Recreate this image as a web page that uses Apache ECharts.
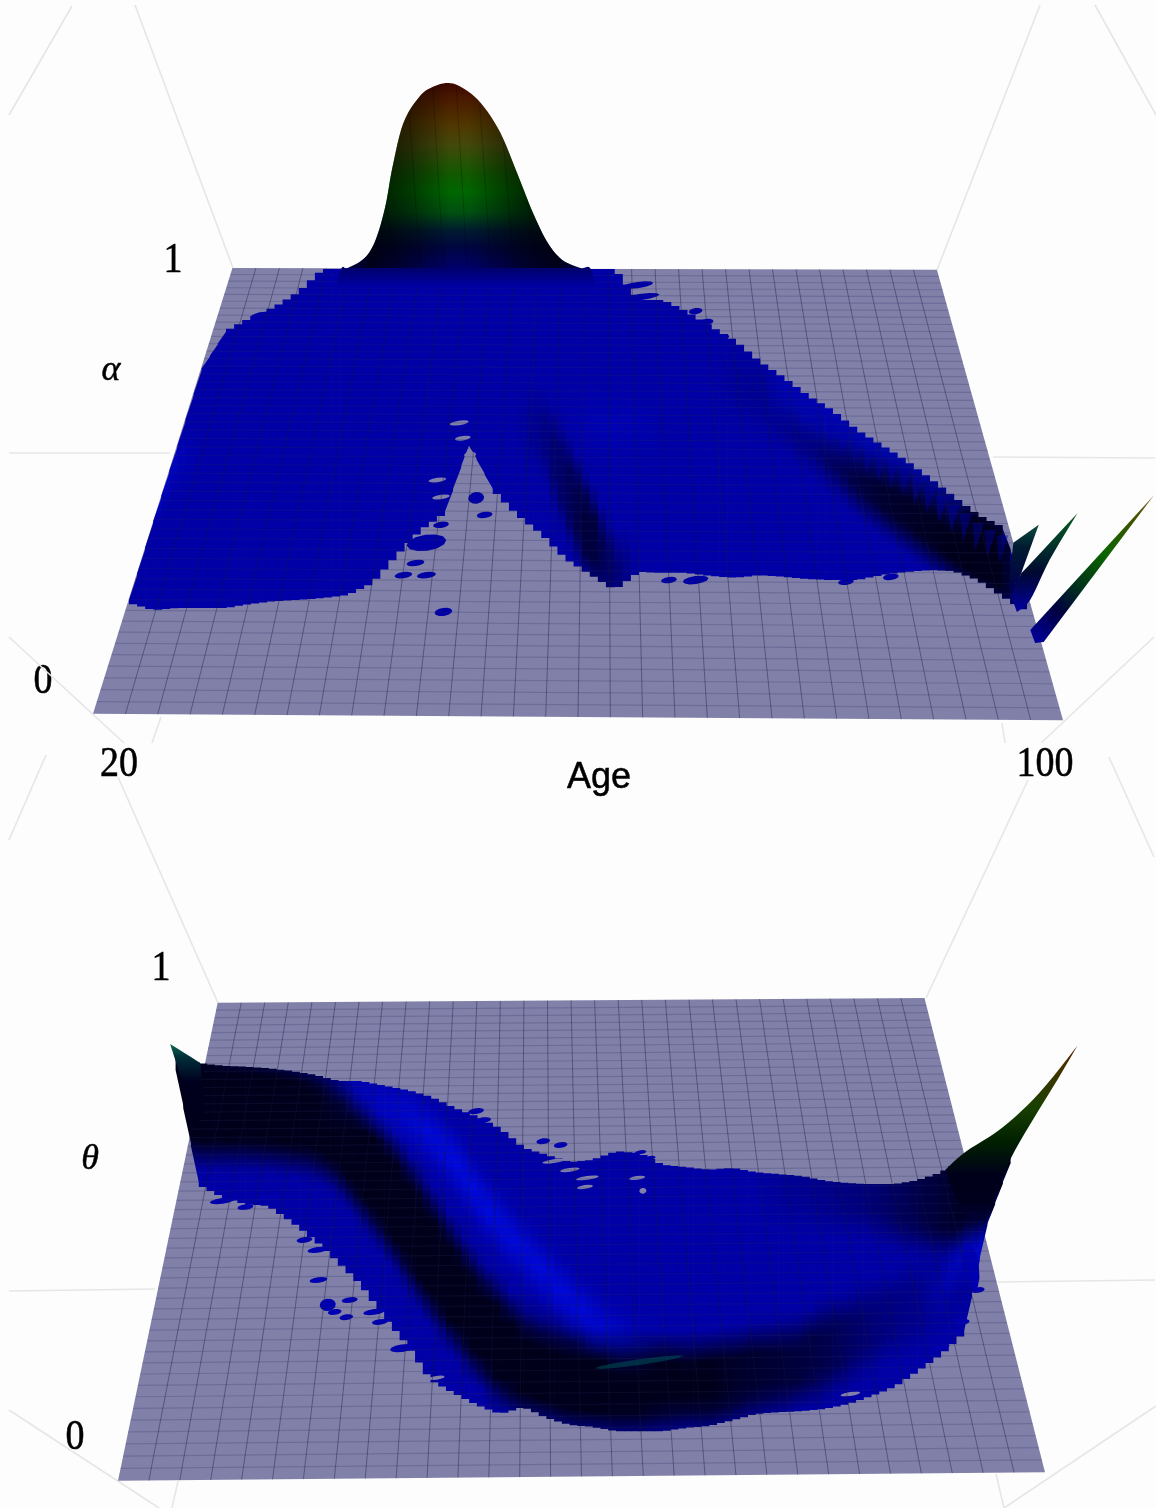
<!DOCTYPE html>
<html><head><meta charset="utf-8">
<style>html,body{margin:0;padding:0;background:#fdfdfd}#c{width:1156px;height:1508px}#c canvas{filter:blur(.6px)}</style>
<script src="https://cdn.jsdelivr.net/npm/echarts@6/dist/echarts.min.js"></script>
</head><body><div id="c"></div>
<script>
// ---------- axis labels ----------
const ageTicks = ['20', '100'];
const ageName = 'Age';
const paramTicks = ['0', '1'];
const paramNames = ['\u03b1', '\u03b8'];

// ---------- floor corners [age, parameter] : front-left, front-right, back-right, back-left ----------
const alphaFloor = [[20, .007], [100, -.007], [89.6, .996], [31.5, 1.0]];
const thetaFloor = [[20, -.008], [100, .010], [89.6, 1.004], [28.6, .994]];

// ---------- alpha panel, surface band ----------
const alphaAges = [23,25,27,29,31,33,35,37,39,41,43,45,47,49,51,53,55,57,59,61,63,65,67,69,71,73,75,77,79,81,83,85,87,89,91,93,95,97];
const alphaHi = [.261,.437,.606,.777,.860,.889,.913,.947,.998,.998,.998,.998,.998,.998,.998,.998,.998,.998,.998,.998,.998,.929,.929,.902,.869,.837,.791,.755,.715,.682,.639,.606,.572,.532,.490,.450,.423,.272];
const alphaLo = [.254,.238,.243,.243,.243,.252,.258,.261,.265,.272,.298,.359,.416,.454,.606,.506,.450,.408,.352,.318,.283,.323,.321,.321,.314,.310,.316,.312,.307,.305,.305,.316,.323,.327,.325,.305,.269,.234];
const alphaDarkHi = [0,0,0,0,0,0,0,0,0,0,0,0,0,0,0,0,0,.673,.572,.461,.350,0,0,0,0,.773,.739,.695,.650,.617,.595,.568,.546,.510,.472,.439,.405,.261];
const alphaDarkLo = [0,0,0,0,0,0,0,0,0,0,0,0,0,0,0,0,0,.606,.461,.350,.294,0,0,0,0,.717,.695,.650,.606,.561,.510,.470,.430,.390,.350,.315,.290,.243];
const alphaDarkS  = [0,0,0,0,0,0,0,0,0,0,0,0,0,0,0,0,0,.2,.5,.8,.4,0,0,0,0,.1,.15,.2,.3,.5,.7,.85,.9,.95,1,1,1,.2];
const alphaBrightC = [0,.499,.584,0,0,0,0,0,0,0,0,0,0,0,0,0,0,0,0,.661,.650,.650,0,0,0,0,0,.715,.670,.640,.615,.590,.565,.530,.480,0,0,0];
const alphaBrightS = [0,.9,.25,0,0,0,0,0,0,0,0,0,0,0,0,0,0,0,0,.15,.2,.15,0,0,0,0,0,.3,.35,.45,.5,.55,.55,.5,.4,0,0,0];
const alphaToothAge = [80,81,82,83,84,85,86,87,88,89,90,91,92,93,94,95];
const alphaToothTop = [.668,.652,.630,.609,.592,.576,.559,.542,.522,.502,.481,.460,.440,.420,.405,.393];

// ---------- alpha panel, peak and spikes ----------
const peakAge = [41.0,42.4,43.3,44.1,44.7,45.6,46.9,48.0,49.3,50.5,52.0,53.6,55.1,56.3,57.5,58.7,60.2];
const peakTop = [1.0,1.022,1.062,1.136,1.225,1.323,1.381,1.403,1.412,1.401,1.367,1.301,1.203,1.122,1.056,1.018,1.0];
const spike1 = [[95.9,.388],[98.0,.428],[96.5,.316],[95.5,.283]];
const spike2 = [[95.7,.272],[96.6,.321],[101.2,.454],[98.9,.350],[97.3,.261],[96.2,.234]];
const spike3 = [[97.3,.194],[107.5,.494],[98.4,.167],[97.7,.165]];

// ---------- alpha panel, islands: [age, value, halfAge, halfValue] ----------
const alphaBlobs = [[48.9,.234,.74,.009],[46.6,.343,.74,.007],[45.6,.316,.74,.007],[47.5,.316,.8,.007],[47.5,.388,1.65,.018],[48.7,.428,.66,.007],[51.6,.488,.66,.013],[52.3,.450,.66,.007],[67.5,.305,.66,.007],[69.7,.305,1.07,.009],[82.1,.301,.66,.007],[85.8,.312,.66,.007],[64.9,.962,1.32,.007],[65.1,.935,1.65,.007],[69.7,.904,.58,.007],[70.6,.880,.58,.007],[71.9,.846,.58,.007],[34.0,.895,1,.007]];
const alphaHoles = [[50.2,.655,.8,.005],[50.5,.621,.66,.005],[48.4,.528,.74,.005],[48.7,.490,.74,.005],[51.1,.584,.5,.007]];

// ---------- theta panel, surface band ----------
const thetaAges = [25,27,29,31,33,35,37,39,41,43,45,47,49,51,53,55,57,59,61,63,65,67,69,71,73,75,77,79,81,83,85,87,89,91,93,95,97];
const thetaHi = [.878,.868,.862,.860,.857,.851,.843,.830,.830,.820,.811,.797,.774,.755,.730,.690,.675,.660,.665,.683,.679,.654,.650,.644,.648,.639,.635,.631,.621,.616,.614,.614,.622,.638,.665,.700,.730];
const thetaLo = [.853,.612,.587,.572,.568,.535,.497,.451,.403,.335,.277,.203,.176,.151,.132,.147,.124,.109,.105,.096,.096,.096,.103,.107,.119,.132,.136,.138,.143,.153,.170,.189,.222,.256,.302,.528,.658];
const thetaDarkHi = [.874,.864,.853,.849,.843,.832,.815,.790,.738,.686,.623,.549,.476,.403,.350,.298,.277,.262,.249,.249,.245,.241,.235,.241,.249,.262,.266,.277,.308,.325,.350,.371,.403,.434,.465,0,0];
const thetaDarkLo = [.727,.706,.706,.706,.702,.696,.686,.654,.591,.528,.455,.382,.319,.256,.203,.172,.161,.145,.140,.136,.136,.145,.151,.151,.161,.178,.187,.203,.220,.249,.277,.308,.329,.361,.392,0,0];
const thetaDarkS  = [1,1,1,1,1,1,1,1,1,1,1,1,1,1,1,1,1,1,1,1,1,1,1,1,.9,.85,.8,.75,.65,.5,.35,.25,.2,.15,.1,0,0];
const thetaShadeHi = [0,0,0,0,0,0,0,0,0,0,0,0,0,0,0,0,0,0,0,0,0,0,0,0,0,0,.635,.631,.621,.616,.614,.614,.627,.648,.681,.721,.748];
const thetaShadeLo = [0,0,0,0,0,0,0,0,0,0,0,0,0,0,0,0,0,0,0,0,0,0,0,0,0,0,.581,.580,.570,.565,.560,.540,.530,.520,.520,.550,.658];
const thetaShadeS  = [0,0,0,0,0,0,0,0,0,0,0,0,0,0,0,0,0,0,0,0,0,0,0,0,0,0,.1,.15,.2,.27,.35,.5,.65,.8,.95,1,1];
const thetaBrightC = [0,0,0,0,0,0,0,.801,.797,.780,.759,.717,.665,.591,.528,.476,.423,.371,.329,.298,.277,0,0,0,0,0,0,0,0,0,0,0,0,.392,.476,.476,0];
const thetaBrightS = [0,0,0,0,0,0,0,.15,.25,.4,.55,.7,.8,.8,.75,.7,.7,.7,.6,.45,.2,0,0,0,0,0,0,0,0,0,0,0,0,.25,.45,.6,0];

// ---------- theta panel, horns and islands ----------
const hornRight = [[91.4,.644],[93.1,.681],[96.3,.732],[99.5,.805],[102.8,.904],[101.1,.834],[97.8,.702],[96.3,.629],[94.6,.541],[92.7,.560]];
const hornLeft = [[24.5,.908],[27.1,.868],[27.5,.769],[26.3,.732],[25.8,.805]];
const thetaBlobs = [[29.0,.579,1.1,.006],[31.0,.566,.7,.006],[32.9,.585,1.2,.004],[36.1,.497,.7,.006],[37.2,.476,.86,.006],[37.3,.413,.78,.006],[38.1,.361,.7,.013],[40.0,.371,.7,.006],[38.7,.346,.6,.006],[39.7,.335,.6,.006],[42.1,.346,.95,.006],[42.6,.325,.7,.006],[44.5,.270,1.04,.008],[50.9,.767,.7,.006],[51.5,.748,.7,.006],[56.7,.704,.6,.006],[58.2,.696,.6,.006],[65.1,.681,.5,.004],[65.9,.669,.5,.004],[94.2,.392,.6,.006],[92.9,.325,.6,.006],[92.1,.302,.6,.006],[91.0,.273,.78,.006],[93.6,.440,.7,.05]];
const thetaHoles = [[57.6,.662,1.0,.004],[59.0,.644,.86,.004],[60.5,.627,1.0,.004],[64.8,.627,.7,.004],[60.3,.608,.7,.004],[65.3,.600,.3,.006],[83.2,.174,.86,.004],[47.5,.208,.7,.004]];
const thetaGlow = [[65.0,.241,3.9,.006]];

// ---------- faint box edges behind the floors, in frame units ----------
const frameEdges = [[135,5,233,268],[72,6,9,115],[1040,5,937,270],[1095,5,1156,115],[9,453,170,453],[993,457,1155,458],[9,637,124,743],[152,743,161,717],[46,755,9,840],[118,777,218,1003],[1154,637,1041,743],[1002,723,1005,743],[1028,780,926,998],[1109,757,1154,857],[9,1291,155,1289],[998,1282,1155,1280],[9,1410,159,1508],[178,1481,172,1508],[1156,1406,1004,1508],[996,1474,1004,1508]];

// ---------- colours ----------
const FLOOR = '#8080a9', BASE = [0,0,166], DARK = [0,0,26], BRIGHT = [0,12,240];
const rows = 50, cols = 30, FADE = .065, GLOW = .075;

function mix(a,b,m){return [a[0]+(b[0]-a[0])*m,a[1]+(b[1]-a[1])*m,a[2]+(b[2]-a[2])*m];}
function lerp(a,b,t){return a+(b-a)*t;}
function css(c){return 'rgb('+c.map(Math.round).join(',')+')';}
function band(H,L,S,i,f){
  const s=lerp(S[i],S[i+1],f);
  if(S[i]>0&&S[i+1]>0) return [lerp(H[i],H[i+1],f),lerp(L[i],L[i+1],f),s];
  if(S[i]>0) return [H[i],L[i],s];
  return [H[i+1],L[i+1],s];
}
function weight(d,b){
  if(b[2]<=0) return 0;
  const o=d>b[0]?d-b[0]:d<b[1]?b[1]-d:0;
  return b[2]*Math.max(0,1-o/FADE);
}
function surface(g,ages,hi,lo,d1,d2,bc,bs){
  return {type:'custom',coordinateSystem:'cartesian2d',xAxisIndex:g,yAxisIndex:g,clip:false,silent:true,
    data:ages.slice(0,-1).map((a,i)=>[a,hi[i]]),
    renderItem:function(params,api){
      const i=params.dataIndex,kids=[],n=3,step=ages[i+1]-ages[i];
      const steepH=Math.abs(hi[i+1]-hi[i])/step>.04,steepL=Math.abs(lo[i+1]-lo[i])/step>.04;
      for(let s=0;s<n;s++){
        const f0=s/n,f1=(s+1)/n,fm=(s+.5)/n;
        const a0=lerp(ages[i],ages[i+1],f0)-.03,a1=lerp(ages[i],ages[i+1],f1)+.03;
        const H=lerp(hi[i],hi[i+1],fm),L=lerp(lo[i],lo[i+1],fm);
        const h0=steepH?lerp(hi[i],hi[i+1],f0):H,h1=steepH?lerp(hi[i],hi[i+1],f1):H;
        const l0=steepL?lerp(lo[i],lo[i+1],f0):L,l1=steepL?lerp(lo[i],lo[i+1],f1):L;
        const top=Math.max(h0,h1),bot=Math.min(l0,l1);
        const b1=band(d1[0],d1[1],d1[2],i,fm),b2=d2?band(d2[0],d2[1],d2[2],i,fm):[0,0,0];
        const bS=lerp(bs[i],bs[i+1],fm),bC=(bs[i]>0&&bs[i+1]>0)?lerp(bc[i],bc[i+1],fm):(bs[i]>0?bc[i]:bc[i+1]);
        const stops=[];
        for(let k=0;k<=16;k++){
          const p=k/16,d=lerp(top,bot,p);
          let c=mix(BASE,DARK,Math.max(weight(d,b1),weight(d,b2)));
          if(bS>0) c=mix(c,BRIGHT,bS*Math.max(0,1-Math.abs(d-bC)/GLOW));
          stops.push({offset:p,color:css(c)});
        }
        kids.push({type:'polygon',shape:{points:[api.coord([a0,h0]),api.coord([a1,h1]),api.coord([a1,l1]),api.coord([a0,l0])]},
          style:{fill:new echarts.graphic.LinearGradient(0,0,0,1,stops)}});
      }
      return {type:'group',children:kids};
    }};
}
function flat(g,list,fill){
  return {type:'custom',coordinateSystem:'cartesian2d',xAxisIndex:g,yAxisIndex:g,clip:false,silent:true,
    data:list,
    renderItem:function(params,api){
      const c=api.coord([api.value(0),api.value(1)]);
      const e=api.coord([api.value(0)+api.value(2),api.value(1)]),t=api.coord([api.value(0),api.value(1)+api.value(3)]);
      const rx=Math.abs(e[0]-c[0]),ry=Math.abs(t[1]-c[1]),pts=[],rot=-.14;
      for(let k=0;k<12;k++){
        const q=k/12*Math.PI*2,x=rx*Math.cos(q),y=ry*Math.sin(q);
        pts.push([c[0]+x*Math.cos(rot)-y*Math.sin(rot),c[1]+x*Math.sin(rot)+y*Math.cos(rot)]);
      }
      return {type:'polygon',shape:{points:pts},style:{fill:fill}};
    }};
}
function teeth(g,ages,tops){
  return {type:'custom',coordinateSystem:'cartesian2d',xAxisIndex:g,yAxisIndex:g,clip:false,silent:true,
    data:ages.map((a,i)=>[a,tops[i]]),
    renderItem:function(p,api){
      const a=api.value(0),d=api.value(1);
      return {type:'polygon',shape:{points:[api.coord([a-.5,d+.012]),api.coord([a+.5,d+.012]),api.coord([a-.25,d-.05])]},style:{fill:'rgba(0,0,170,.42)'}};
    }};
}
function floorPoint(f,k,u,v,api){
  const t=v*(1+k)/(1+k*v);
  const fx=lerp(f[0][0],f[1][0],u),fy=lerp(f[0][1],f[1][1],u);
  const bx=lerp(f[3][0],f[2][0],u),by=lerp(f[3][1],f[2][1],u);
  return api.coord([lerp(fx,bx,t),lerp(fy,by,t)]);
}
function floorFill(g,f){
  return {type:'custom',coordinateSystem:'cartesian2d',xAxisIndex:g,yAxisIndex:g,clip:false,silent:true,data:f,
    renderItem:function(p,api){
      if(p.dataIndex) return null;
      return {type:'polygon',shape:{points:f.map(q=>api.coord(q))},style:{fill:FLOOR}};
    }};
}
function floorGrid(g,f,k){
  return {type:'custom',coordinateSystem:'cartesian2d',xAxisIndex:g,yAxisIndex:g,clip:false,silent:true,data:[[f[0][0],f[0][1]]],
    renderItem:function(p,api){
      const kids=[];
      for(let j=1;j<rows;j++){
        const a=floorPoint(f,k,0,j/rows,api),b=floorPoint(f,k,1,j/rows,api);
        kids.push({type:'line',shape:{x1:a[0],y1:a[1],x2:b[0],y2:b[1]},style:{stroke:'rgba(40,40,100,.22)',lineWidth:1.2}});
      }
      for(let i=1;i<cols;i++){
        const a=floorPoint(f,k,i/cols,0,api),b=floorPoint(f,k,i/cols,1,api);
        kids.push({type:'line',shape:{x1:a[0],y1:a[1],x2:b[0],y2:b[1]},style:{stroke:'rgba(20,20,60,.4)',lineWidth:1}});
      }
      return {type:'group',children:kids};
    }};
}
function spline(P,corners){
  const n=P.length,out=[];
  for(let i=0;i<n;i++){
    const j=(i+1)%n,p1=P[i],p2=P[j];
    const p0=corners.indexOf(i)>=0?p1:P[(i-1+n)%n],p3=corners.indexOf(j)>=0?p2:P[(j+1)%n];
    for(let s=0;s<6;s++){
      const t=s/6,t2=t*t,t3=t2*t;
      out.push([0,1].map(c=>.5*(2*p1[c]+(p2[c]-p0[c])*t+(2*p0[c]-5*p1[c]+4*p2[c]-p3[c])*t2+(3*p1[c]-p0[c]-3*p2[c]+p3[c])*t3)));
    }
  }
  return out;
}
function shape(g,pts,stops,axis,corners){
  return {type:'custom',coordinateSystem:'cartesian2d',xAxisIndex:g,yAxisIndex:g,clip:false,silent:true,data:[pts[0]],
    renderItem:function(p,api){
      let P=pts.map(q=>api.coord(q));
      const ys=P.map(q=>q[1]),xs=P.map(q=>q[0]);
      const yMin=Math.min.apply(0,ys),yMax=Math.max.apply(0,ys);
      const xMin=Math.min.apply(0,xs),xMax=Math.max.apply(0,xs);
      const grad= axis==='diag'
        ? new echarts.graphic.LinearGradient(xMax,yMin,xMin,yMax,stops,true)
        : axis==='x' ? new echarts.graphic.LinearGradient(xMin,0,xMax,0,stops,true)
        : new echarts.graphic.LinearGradient(0,yMin,0,yMax,stops,true);
      if(corners) P=spline(P,corners);
      return {type:'polygon',shape:{points:P},style:{fill:grad}};
    }};
}
function peakLines(g,f,ages,tops){
  return {type:'custom',coordinateSystem:'cartesian2d',xAxisIndex:g,yAxisIndex:g,clip:false,silent:true,data:[[ages[0],tops[0]]],
    renderItem:function(p,api){
      const kids=[];
      for(let i=1;i<cols;i++){
        const base=lerp(f[3][0],f[2][0],i/cols),lean=base-.9;
        let j=-1; for(let q=0;q<ages.length-1;q++){ if(lean>=ages[q]&&lean<=ages[q+1]) j=q; }
        if(j<0) continue;
        const top=lerp(tops[j],tops[j+1],(lean-ages[j])/(ages[j+1]-ages[j]));
        if(top<1.02) continue;
        const A=api.coord([base,1.0]),B=api.coord([lean,top-.004]);
        kids.push({type:'line',shape:{x1:A[0],y1:A[1],x2:B[0],y2:B[1]},style:{stroke:'rgba(0,0,0,.22)',lineWidth:1}});
      }
      return {type:'group',children:kids};
    }};
}

const peakOutline = peakAge.map((a,i)=>[a,peakTop[i]]);
const peakBody = [[40,.955],[40.5,1.0]].concat(peakOutline,[[61,1.0],[61.5,.955]]);

const series = [
  {type:'custom',coordinateSystem:'cartesian2d',xAxisIndex:2,yAxisIndex:2,clip:false,silent:true,data:frameEdges,
    renderItem:function(p,api){
      const a=api.coord([api.value(0),api.value(1)]),b=api.coord([api.value(2),api.value(3)]);
      return {type:'line',shape:{x1:a[0],y1:a[1],x2:b[0],y2:b[1]},style:{stroke:'#e6e6e6',lineWidth:1.6}};
    }},
  floorFill(0,alphaFloor),
  floorFill(1,thetaFloor),
  surface(0,alphaAges,alphaHi,alphaLo,[alphaDarkHi,alphaDarkLo,alphaDarkS],null,alphaBrightC,alphaBrightS),
  surface(1,thetaAges,thetaHi,thetaLo,[thetaDarkHi,thetaDarkLo,thetaDarkS],[thetaShadeHi,thetaShadeLo,thetaShadeS],thetaBrightC,thetaBrightS),
  teeth(0,alphaToothAge,alphaToothTop),
  flat(0,alphaHoles,FLOOR),flat(1,thetaHoles,FLOOR),
  flat(0,alphaBlobs,'rgb(0,0,166)'),flat(1,thetaBlobs,'rgb(0,0,176)'),
  floorGrid(0,alphaFloor,.378),
  floorGrid(1,thetaFloor,.311),
  flat(1,thetaGlow,'rgba(0,110,100,.4)'),
  shape(0,peakBody,[{offset:0,color:'#3c0800'},{offset:.08,color:'#4a1a00'},{offset:.2,color:'#503600'},{offset:.3,color:'#44480a'},{offset:.45,color:'#0f5a00'},{offset:.53,color:'#006600'},{offset:.63,color:'#005010'},{offset:.72,color:'#001a30'},{offset:.8,color:'#000540'},{offset:.9,color:'#00006a'},{offset:1,color:'#0000a6'}],'y',[0,peakBody.length-1]),
  shape(0,peakOutline,[{offset:0,color:'rgba(0,0,0,.35)'},{offset:.1,color:'rgba(0,0,0,.75)'},{offset:.26,color:'rgba(0,0,0,.45)'},{offset:.44,color:'rgba(0,0,0,0)'},{offset:.52,color:'rgba(0,0,0,0)'},{offset:.75,color:'rgba(0,0,0,.55)'},{offset:.9,color:'rgba(0,0,0,.75)'},{offset:1,color:'rgba(0,0,0,.35)'}],'x',[0,peakOutline.length-1]),
  peakLines(0,alphaFloor,peakAge,peakTop),
  shape(0,spike1,[{offset:0,color:'#0a4a40'},{offset:.35,color:'#001a30'},{offset:1,color:'#00004a'}],'y'),
  shape(0,spike2,[{offset:0,color:'#0a5a20'},{offset:.3,color:'#00382a'},{offset:.6,color:'#000830'},{offset:1,color:'#0000a0'}],'y',[0,1,2,5]),
  shape(0,spike3,[{offset:0,color:'#8a6a30'},{offset:.12,color:'#4a5000'},{offset:.4,color:'#0a6400'},{offset:.62,color:'#00301c'},{offset:.78,color:'#000040'},{offset:1,color:'#0000a6'}],'diag'),
  shape(1,hornRight,[{offset:0,color:'#5a1a00'},{offset:.1,color:'#483000'},{offset:.35,color:'#1a4000'},{offset:.55,color:'#002000'},{offset:.75,color:'#00001a'},{offset:.9,color:'#00001c'},{offset:1,color:'rgba(0,0,60,.6)'}],'y',[0,4,9]),
  shape(1,hornLeft,[{offset:0,color:'#0a6a50'},{offset:.15,color:'#00303a'},{offset:.45,color:'#00001e'},{offset:1,color:'#00001a'}],'y',[0,1,2])
];

const serif='"Liberation Serif","Times New Roman",serif', sans='"Liberation Sans",Arial,sans-serif';
function label(text,x,y,font,size,italic,sy){
  return {type:'text',x:x,y:y,scaleY:sy||1.12,silent:true,style:{text:text,fontFamily:font,fontSize:size,fill:'#000',stroke:'#000',lineWidth:.5,align:'center',verticalAlign:'middle',fontStyle:italic?'italic':'normal'}};
}
const chart=echarts.init(document.getElementById('c'));
chart.setOption({
  animation:false,
  backgroundColor:'#fdfdfd',
  grid:[{left:93,width:970,top:268,height:449},{left:118,width:927,top:1000,height:477},{left:0,width:1156,top:0,height:1508}],
  xAxis:[{type:'value',gridIndex:0,min:20,max:100,show:false},{type:'value',gridIndex:1,min:20,max:100,show:false},{type:'value',gridIndex:2,min:0,max:1156,show:false}],
  yAxis:[{type:'value',gridIndex:0,min:0,max:1,show:false},{type:'value',gridIndex:1,min:0,max:1,show:false},{type:'value',gridIndex:2,min:0,max:1508,inverse:true,show:false}],
  series:series,
  graphic:{elements:[
    label(paramTicks[1],173,261,serif,38),
    label(paramTicks[0],43,682,serif,38),
    label(paramNames[0],111,371,serif,36,true,1),
    label(ageTicks[0],119,765,serif,38),
    label(ageTicks[1],1045,765,serif,38),
    label(ageName,599,778,sans,36,false,1),
    label(paramTicks[1],161,969,serif,38),
    label(paramTicks[0],75,1438,serif,38),
    label(paramNames[1],90,1160,serif,36,true,1)
  ]}
});
</script></body></html>
